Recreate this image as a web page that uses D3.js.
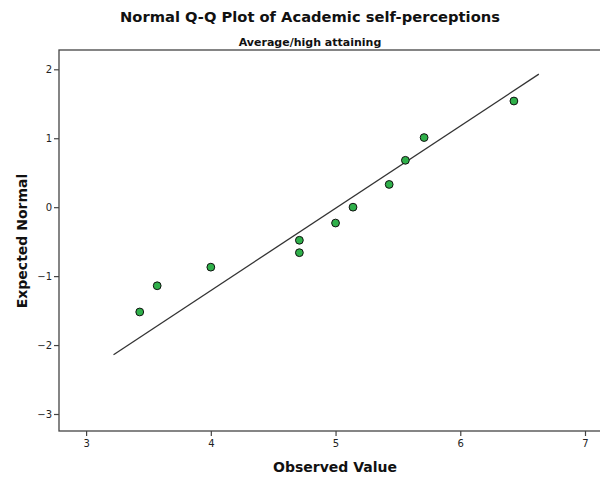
<!DOCTYPE html>
<html><head><meta charset="utf-8">
<script src="https://cdn.jsdelivr.net/npm/d3@7"></script>
<style>body{margin:0;background:#fff;} text{font-family:"DejaVu Sans",Verdana,sans-serif;}</style>
</head><body>
<svg id="chart" width="600" height="480"></svg>
<script>
const observed = [3.43, 3.57, 4.00, 4.71, 4.71, 5.00, 5.14, 5.43, 5.56, 5.71, 6.43];
const expected = [-1.52, -1.14, -0.87, -0.48, -0.66, -0.23, 0.00, 0.33, 0.68, 1.01, 1.54];
const lineObserved = [3.22, 6.63];
const lineExpected = [-2.14, 1.93];
const xTicks = [3, 4, 5, 6, 7];
const yTicks = [2, 1, 0, -1, -2, -3];
const title = "Normal Q-Q Plot of Academic self-perceptions";
const subtitle = "Average/high attaining";
const xTitle = "Observed Value";
const yTitle = "Expected Normal";

const svg = d3.select("#chart");
const L = 59, T = 50, B = 431, R = 640;
const x = d3.scaleLinear().domain([3, 7]).range([86.1, 585]);
const y = d3.scaleLinear().domain([-3, 2]).range([414, 69.3]);

svg.append("text").attr("x", 310).attr("y", 22).attr("text-anchor", "middle")
  .attr("font-size", 14.7).attr("font-weight", "bold").attr("fill", "#111").text(title);
svg.append("text").attr("x", 310).attr("y", 46).attr("text-anchor", "middle")
  .attr("font-size", 11).attr("font-weight", "bold").attr("fill", "#111").text(subtitle);

// frame
svg.append("rect").attr("x", L).attr("y", T).attr("width", R - L).attr("height", B - T)
  .attr("fill", "none").attr("stroke", "#444").attr("stroke-width", 1.3);

const xAxis = svg.append("g").attr("transform", `translate(0,${B})`)
  .call(d3.axisBottom(x).tickValues(xTicks).tickSize(5).tickPadding(4).tickFormat(d3.format("d")));
const yAxis = svg.append("g").attr("transform", `translate(${L},0)`)
  .call(d3.axisLeft(y).tickValues(yTicks).tickSize(5).tickPadding(2).tickFormat(d => d < 0 ? "\u2212" + Math.abs(d) : d));
[xAxis, yAxis].forEach(g => {
  g.select(".domain").remove();
  g.selectAll(".tick line").attr("stroke", "#444").attr("stroke-width", 1.2);
  g.selectAll(".tick text").attr("font-size", 10).attr("fill", "#222")
    .attr("font-family", "'DejaVu Sans',sans-serif");
});

svg.append("text").attr("x", 335).attr("y", 472).attr("text-anchor", "middle")
  .attr("font-size", 14).attr("font-weight", "bold").attr("fill", "#111").text(xTitle);
svg.append("text").attr("transform", "translate(27,241) rotate(-90)").attr("text-anchor", "middle")
  .attr("font-size", 14).attr("font-weight", "bold").attr("fill", "#111").text(yTitle);

// reference line
svg.append("line")
  .attr("x1", x(lineObserved[0])).attr("y1", y(lineExpected[0]))
  .attr("x2", x(lineObserved[1])).attr("y2", y(lineExpected[1]))
  .attr("stroke", "#333").attr("stroke-width", 1.3);

svg.append("g").selectAll("circle").data(observed.map((v, i) => [v, expected[i]]))
  .join("circle")
  .attr("cx", d => x(d[0])).attr("cy", d => y(d[1])).attr("r", 3.9)
  .attr("fill", "#2fb04a").attr("stroke", "#111").attr("stroke-width", 1);
</script>
</body></html>
